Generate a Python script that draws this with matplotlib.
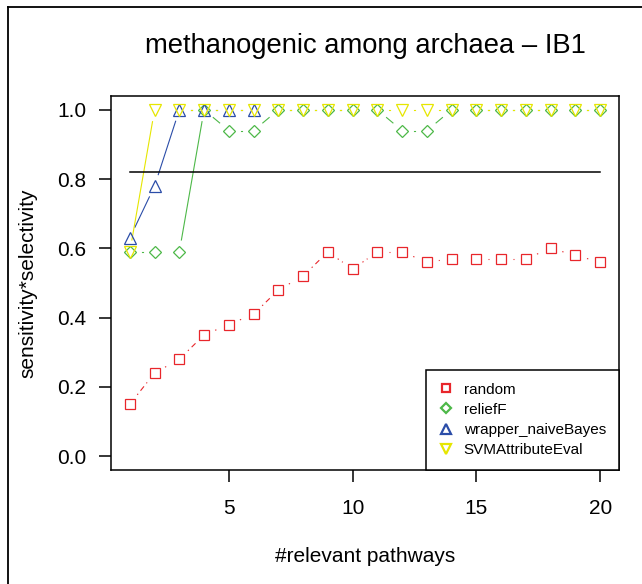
import numpy as np
import matplotlib
matplotlib.use("Agg")
import matplotlib.pyplot as plt
from matplotlib.lines import Line2D

# ---------- datos ----------
n_pathways = list(range(1, 21))

random_sel = [0.15, 0.24, 0.28, 0.35, 0.38, 0.41, 0.48, 0.52, 0.59, 0.54,
              0.59, 0.59, 0.56, 0.57, 0.57, 0.57, 0.57, 0.60, 0.58, 0.56]
relief_sel = [0.59, 0.59, 0.59, 1.0, 0.94, 0.94, 1.0, 1.0, 1.0, 1.0,
              1.0, 0.94, 0.94, 1.0, 1.0, 1.0, 1.0, 1.0, 1.0, 1.0]
wrapper_x = [1, 2, 3, 4, 5, 6]
wrapper_sel = [0.63, 0.78, 1.0, 1.0, 1.0, 1.0]
svm_sel = [0.59, 1.0, 1.0, 1.0, 1.0, 1.0, 1.0, 1.0, 1.0, 1.0,
           1.0, 1.0, 1.0, 1.0, 1.0, 1.0, 1.0, 1.0, 1.0, 1.0]
baseline = 0.82

labels = ["random", "reliefF", "wrapper_naiveBayes", "SVMAttributeEval"]
title = "methanogenic among archaea \u2013 IB1"

plt.rcParams['font.family'] = ['Liberation Sans', 'DejaVu Sans']

W, H = 642, 584
fig = plt.figure(figsize=(W / 100, H / 100), dpi=100)
ax = fig.add_axes([111 / W, 1 - 470 / H, (619 - 111) / W, (470 - 96) / H])
ax.set_xlim(0.24, 20.76)
ax.set_ylim(-0.04, 1.04)


def gap_line(x, y, color, gap=12, **kw):
    # lineas tipo "b" de R: segmentos que no tocan los puntos
    pts = ax.transData.transform(np.column_stack([x, y]))
    inv = ax.transData.inverted()
    for p0, p1 in zip(pts[:-1], pts[1:]):
        d = p1 - p0
        L = np.hypot(*d)
        if L <= 2 * gap:
            continue
        u = d / L
        a = inv.transform(p0 + u * gap)
        b = inv.transform(p1 - u * gap)
        ax.plot([a[0], b[0]], [a[1], b[1]], color=color, lw=0.8, **kw)


c_red, c_green, c_blue, c_yel = '#E8262B', '#4DB848', '#2B4DA8', '#E6E600'

gap_line(n_pathways, random_sel, c_red, dashes=[1.2, 3.5, 5, 3.5])
gap_line(n_pathways, relief_sel, c_green)
gap_line(wrapper_x, wrapper_sel, c_blue)
gap_line(n_pathways, svm_sel, c_yel)

mk = dict(ls='none', mfc='none', mew=0.9)
ax.plot(n_pathways, random_sel, marker='s', ms=6.8, mec=c_red, label=labels[0], **mk)
ax.plot(n_pathways, relief_sel, marker='D', ms=6.2, mec=c_green, label=labels[1], **mk)
ax.plot(wrapper_x, wrapper_sel, marker='^', ms=8.8, mec=c_blue, label=labels[2], **mk)
ax.plot(n_pathways, svm_sel, marker='v', ms=8.8, mec=c_yel, label=labels[3], **mk)

ax.plot([n_pathways[0], n_pathways[-1]], [baseline, baseline], color='black', lw=1.1)

# ejes estilo R
for s in ['top', 'right', 'bottom', 'left']:
    ax.spines[s].set_linewidth(1.1)
ax.set_xticks([5, 10, 15, 20])
ax.set_yticks([0.0, 0.2, 0.4, 0.6, 0.8, 1.0])
ax.set_yticklabels(["0.0", "0.2", "0.4", "0.6", "0.8", "1.0"])
ax.tick_params(axis='both', length=8.6, width=1.1, labelsize=15)
ax.tick_params(axis='x', pad=12)
ax.tick_params(axis='y', pad=9)

ax.set_xlabel("#relevant pathways", fontsize=15)
ax.xaxis.set_label_coords(0.5, -(557 - 470) / 374)
ax.xaxis.label.set_va('center')
ax.set_ylabel("sensitivity*selectivity", fontsize=15)
ax.yaxis.set_label_coords((28 - 111) / 508, 0.5)
ax.yaxis.label.set_va('center')

ax.set_title(title, fontsize=19.7, y=(470 - 46) / 374, va='center', pad=0)

leg = ax.legend(loc='lower right', bbox_to_anchor=(1, 0), fontsize=11,
                frameon=True, fancybox=False, edgecolor='black', framealpha=1,
                borderpad=0.85, labelspacing=0.4, handlelength=1.0,
                handletextpad=0.65, borderaxespad=0, markerscale=0.85)
leg.get_frame().set_linewidth(1.1)
for h in leg.legend_handles:
    h.set_markeredgewidth(1.6)

# marco exterior de la figura (solo izquierda y arriba)
fig.add_artist(Line2D([8 / W, 8 / W], [0, 1 - 7 / H], color='black', lw=1.3))
fig.add_artist(Line2D([8 / W, 1], [1 - 7 / H, 1 - 7 / H], color='black', lw=1.3))

fig.savefig("out.png", dpi=100)
